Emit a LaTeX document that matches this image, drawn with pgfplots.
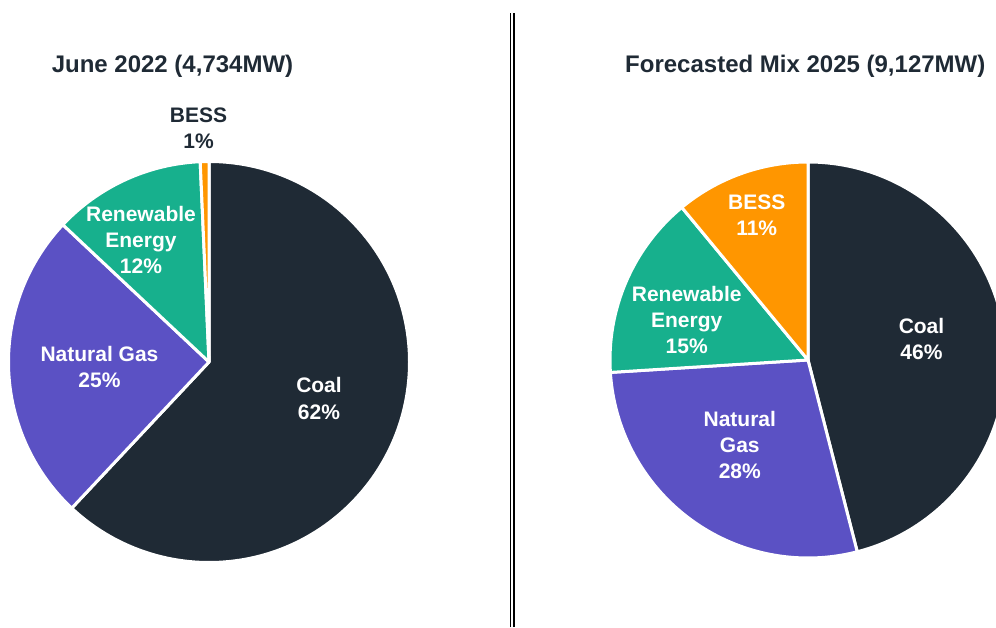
\documentclass[border=0pt]{standalone}
\usepackage{fontspec}
\setmainfont{Liberation Sans}
\usepackage{pgfplots}
\pgfplotsset{compat=1.18}
\definecolor{coal}{RGB}{31,42,53}
\definecolor{gas}{RGB}{91,81,196}
\definecolor{ren}{RGB}{23,176,141}
\definecolor{bess}{RGB}{255,150,0}
\definecolor{txt}{RGB}{31,42,53}
% slice: cx, cy, r, cumulative start (%), share (%), colour
\newcommand{\slice}[6]{%
  \pgfmathsetmacro\sa{90-3.6*(#4)}%
  \pgfmathsetmacro\ea{90-3.6*((#4)+(#5))}%
  \edef\temp{\noexpand\fill[#6, draw=white, line width=3pt, line join=round]
    (axis cs:#1,#2) -- ++(\sa:#3pt) arc[start angle=\sa, end angle=\ea, radius=#3pt] -- cycle;}%
  \temp}
\newcommand{\lbl}[4]{\node[anchor=base, inner sep=0pt, text=#4, font=\fontsize{21}{25}\selectfont\bfseries] at (axis cs:#1,#2) {#3};}
\begin{document}
\begin{tikzpicture}
\useasboundingbox (0,0) rectangle (996pt,627pt);
\begin{axis}[at={(0pt,0pt)}, anchor=south west, x=1pt, y=1pt,
  xmin=0, xmax=996, ymin=0, ymax=627, hide axis, clip=true]
% June 2022: Coal 62, Natural Gas 25, Renewable 12.2, BESS 0.8
\slice{209}{265}{200.5}{0}{62}{coal}
\slice{209}{265}{200.5}{62}{25}{gas}
\slice{209}{265}{200.5}{87}{12.3}{ren}
\slice{209}{265}{200.5}{99.3}{0.7}{bess}
% Forecast 2025: Coal 46, Natural Gas 28, Renewable 15, BESS 11
\slice{808}{267}{198}{0}{46}{coal}
\slice{808}{267}{198}{46}{28}{gas}
\slice{808}{267}{198}{74}{15}{ren}
\slice{808}{267}{198}{89}{11}{bess}
% titles
\node[anchor=base, inner sep=0pt, text=txt, font=\fontsize{24}{28}\selectfont\bfseries] at (axis cs:172.5,554.7) {June 2022 (4,734MW)};
\node[anchor=base, inner sep=0pt, text=txt, font=\fontsize{24}{28}\selectfont\bfseries] at (axis cs:805.3,554.7) {Forecasted Mix 2025 (9,127MW)};
% left labels
\lbl{319}{234}{Coal}{white}
\lbl{319}{207}{62\%}{white}
\lbl{99.5}{265.3}{Natural Gas}{white}
\lbl{99.5}{239}{25\%}{white}
\lbl{141}{405}{Renewable}{white}
\lbl{141}{379}{Energy}{white}
\lbl{141}{353}{12\%}{white}
\lbl{198.5}{504}{BESS}{txt}
\lbl{198.5}{478}{1\%}{txt}
% right labels
\lbl{921.5}{293.7}{Coal}{white}
\lbl{921.5}{267.7}{46\%}{white}
\lbl{739.8}{200}{Natural}{white}
\lbl{739.8}{174.3}{Gas}{white}
\lbl{739.8}{148.7}{28\%}{white}
\lbl{686.7}{325.3}{Renewable}{white}
\lbl{686.7}{299.3}{Energy}{white}
\lbl{686.7}{273.7}{15\%}{white}
\lbl{756.7}{417}{BESS}{white}
\lbl{756.7}{391}{11\%}{white}
\end{axis}
% divider
\draw[line width=2.4pt] (513.8pt,0pt) -- (513.8pt,614pt);
\draw[line width=1pt] (510.8pt,0pt) -- (510.8pt,614pt);
\draw[line width=1.7pt] (510.5pt,583pt) -- (510.5pt,614pt);
\draw[line width=1.7pt] (510.5pt,0pt) -- (510.5pt,49pt);
\end{tikzpicture}
\end{document}
